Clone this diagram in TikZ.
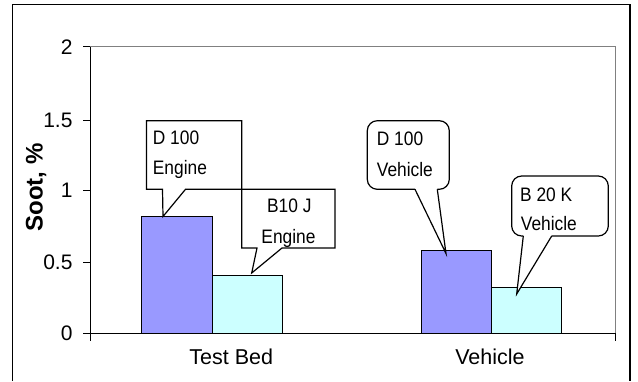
\documentclass[tikz,border=0pt]{standalone}
\usepackage{fontspec}
\setmainfont{Liberation Sans}
\definecolor{barblue}{HTML}{9999FF}
\definecolor{barcyan}{HTML}{CCFFFF}
\definecolor{plotgray}{HTML}{808080}
\newcommand{\narrowtext}[1]{\scalebox{0.89}[1]{#1}}
\tikzset{
  ticklabel/.style={anchor=east, inner sep=0pt, font=\fontsize{21}{21}\selectfont},
  catlabel/.style={anchor=base, inner sep=0pt, font=\fontsize{21.5}{21.5}\selectfont},
  axistitle/.style={anchor=base, inner sep=0pt, rotate=90, font=\fontsize{24}{24}\selectfont\bfseries},
  barbox/.style={draw=black, line width=0.9pt},
  calloutline/.style={draw=black, line width=1.2pt, line join=miter},
  callouttext/.style={inner sep=0pt, font=\fontsize{19.5}{19.5}\selectfont},
}
\begin{document}
\begin{tikzpicture}[x=1pt, y=-1pt]
  \useasboundingbox (0,0) rectangle (638,381);
  \fill[white] (0,0) rectangle (638,381);

  % outer chart frame (open at the bottom)
  \draw[line width=1.2pt] (12.7,381) -- (12.7,4.7) -- (630,4.7) -- (630,381);

  % plot area border
  \draw[plotgray, line width=0.9pt] (90,46.7) -- (615,46.7) -- (615,333.3);

  % bars
  \filldraw[barbox, fill=barblue] (141.7,333.3) rectangle (212.3,216);
  \filldraw[barbox, fill=barcyan] (212.3,333.3) rectangle (282.7,275);
  \filldraw[barbox, fill=barblue] (421.7,333.3) rectangle (491.7,250.7);
  \filldraw[barbox, fill=barcyan] (491.7,333.3) rectangle (561.7,287.3);

  % axes and tick marks
  \draw[line width=0.9pt] (90,46.7) -- (90,341);
  \draw[line width=0.9pt] (83,333.3) -- (615,333.3);
  \draw[line width=0.9pt] (615,333.3) -- (615,341);
  \foreach \ty in {46.7,120,190,262.7} {
    \draw[line width=0.9pt] (83,\ty) -- (90,\ty);
  }

  % tick labels
  \node[ticklabel] (t2)  at (72.7,46.7)  {2};
  \node[ticklabel] (t15) at (72.7,120)   {1.5};
  \node[ticklabel] (t1)  at (72.7,190)   {1};
  \node[ticklabel] (t05) at (72.7,262.7) {0.5};
  \node[ticklabel] (t0)  at (72.7,333.3) {0};

  % axis title
  \node[axistitle] (ytitle) at (42.5,187.5) {Soot, \%};

  % category labels
  \node[catlabel] (catbed) at (231.3,364.3) {Test Bed};
  \node[catlabel] (catveh) at (490,364.3) {Vehicle};

  % rectangular callouts (Test Bed)
  \filldraw[calloutline, fill=white] (241.7,189.3) -- (335,189.3) -- (335,248)
     -- (282,248) -- (251.7,273) -- (257,248) -- (241.7,248) -- cycle;
  \filldraw[calloutline, fill=white] (146.5,120.7) -- (241.7,120.7) -- (241.7,189.3)
     -- (185.5,189.3) -- (163,216.5) -- (162.5,189.3) -- (146.5,189.3) -- cycle;

  % rounded callouts (Vehicle)
  \fill[white, rounded corners=10pt] (367.3,120.7) rectangle (449.3,189.3);
  \fill[white] (415,189.3) -- (446,253.5) -- (437.3,189.3) -- cycle;
  \draw[calloutline, rounded corners=10pt] (437.3,189.3) -- (449.3,189.3) -- (449.3,120.7)
     -- (367.3,120.7) -- (367.3,189.3) -- (415,189.3);
  \draw[calloutline] (415,189.3) -- (446,253.5) -- (437.3,189.3);

  \fill[white, rounded corners=10pt] (511.7,176) rectangle (608.3,236);
  \fill[white] (523.3,236) -- (516.7,294) -- (551.7,236) -- cycle;
  \draw[calloutline, rounded corners=10pt] (551.7,236) -- (608.3,236) -- (608.3,176)
     -- (511.7,176) -- (511.7,236) -- (523.3,236);
  \draw[calloutline] (523.3,236) -- (516.7,294) -- (551.7,236);

  % callout texts
  \node[callouttext, anchor=base west] (c1a) at (152.7,144)   {\narrowtext{D 100}};
  \node[callouttext, anchor=base west] (c1b) at (152.7,174)   {\narrowtext{Engine}};
  \node[callouttext, anchor=base]      (c2a) at (289.3,212.7) {\narrowtext{B10 J}};
  \node[callouttext, anchor=base]      (c2b) at (288.5,243.3) {\narrowtext{Engine}};
  \node[callouttext, anchor=base west] (c3a) at (376.7,145.7) {\narrowtext{D 100}};
  \node[callouttext, anchor=base west] (c3b) at (376.7,176)   {\narrowtext{Vehicle}};
  \node[callouttext, anchor=base west] (c4a) at (520,201.7)   {\narrowtext{B 20 K}};
  \node[callouttext, anchor=base west] (c4b) at (520.7,230.7) {\narrowtext{Vehicle}};
\end{tikzpicture}
\end{document}
